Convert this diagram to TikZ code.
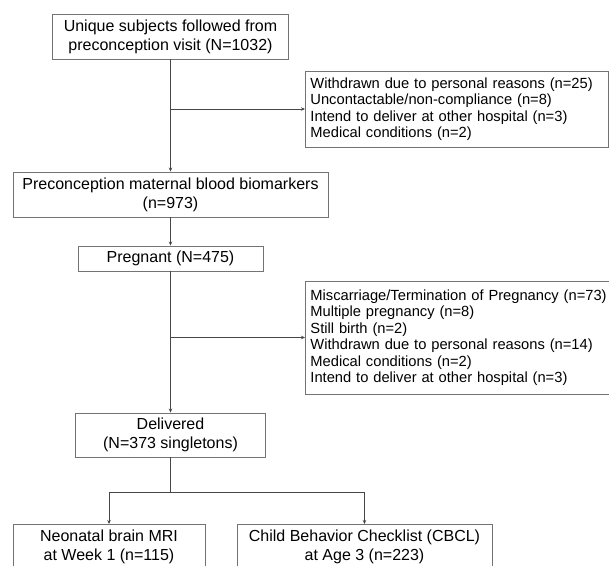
\documentclass[tikz,border=0pt]{standalone}
\usepackage{fontspec}
\setmainfont{Liberation Sans}
\usetikzlibrary{arrows.meta}
\definecolor{boxline}{RGB}{115,115,115}
\definecolor{conline}{RGB}{70,70,70}
\tikzset{
  mainbox/.style={draw=boxline, line width=0.9pt, rectangle, inner sep=0pt, align=center,
    font=\fontsize{16}{19}\selectfont},
  exclbox/.style={draw=boxline, line width=0.9pt, rectangle, inner xsep=5pt, inner ysep=0pt, align=left,
    font=\fontsize{14.7}{16.5}\selectfont, anchor=west},
  conn/.style={draw=conline, line width=0.7pt, -{Stealth[length=4pt,width=3.5pt]}}
}
\begin{document}
\begin{tikzpicture}[x=1pt,y=-1pt]
\useasboundingbox (0,0) rectangle (609,565);
\node[mainbox, minimum width=236, minimum height=45] (b1) at (170.5,36.5)
  {Unique subjects followed from\\preconception visit (N=1032)};
\node[exclbox, text width=293, minimum height=76] (e1) at (305,109)
  {Withdrawn due to personal reasons (n=25)\\Uncontactable/non-compliance (n=8)\\Intend to deliver at other hospital (n=3)\\Medical conditions (n=2)};
\node[mainbox, minimum width=315, minimum height=45] (b2) at (170.5,194.5)
  {Preconception maternal blood biomarkers\\(n=973)};
\node[mainbox, minimum width=185, minimum height=25] (b3) at (170.5,258.5)
  {Pregnant (N=475)};
\node[exclbox, text width=300, minimum height=113] (e2) at (305,337.5)
  {Miscarriage/Termination of Pregnancy (n=73)\\Multiple pregnancy (n=8)\\Still birth (n=2)\\Withdrawn due to personal reasons (n=14)\\Medical conditions (n=2)\\Intend to deliver at other hospital (n=3)};
\node[mainbox, minimum width=190, minimum height=44] (b4) at (170.5,435)
  {Delivered\\(N=373 singletons)};
\node[mainbox, minimum width=192, minimum height=45, anchor=north] (b5) at (109,524)
  {Neonatal brain MRI\\at Week 1 (n=115)};
\node[mainbox, minimum width=255, minimum height=45, anchor=north] (b6) at (364.5,524)
  {Child Behavior Checklist (CBCL)\\at Age 3 (n=223)};
\coordinate (split) at (170.5,492);
\draw[conn] (b1.south) -- (b2.north);
\draw[conn] (b1.south |- e1.west) -- (e1.west);
\draw[conn] (b2.south) -- (b3.north);
\draw[conn] (b3.south) -- (b4.north);
\draw[conn] (b3.south |- e2.west) -- (e2.west);
\draw[draw=conline, line width=0.7pt] (b4.south) -- (split);
\draw[conn] (split) -| (b5.north);
\draw[conn] (split) -| (b6.north);
\end{tikzpicture}
\end{document}
